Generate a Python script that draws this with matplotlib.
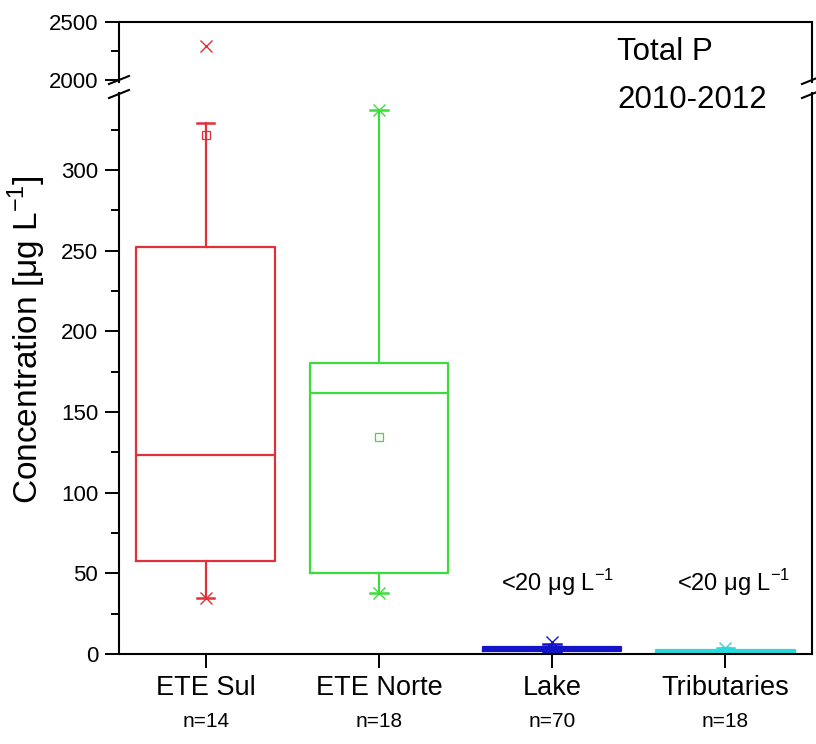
import matplotlib
matplotlib.use('Agg')
import matplotlib.pyplot as plt
from matplotlib.lines import Line2D
import numpy as np

plt.rcParams['font.family'] = ['Liberation Sans', 'DejaVu Sans']
plt.rcParams['mathtext.fontset'] = 'custom'
plt.rcParams['mathtext.rm'] = 'Liberation Sans'

# box statistics (ug/L)
categories = ['ETE Sul', 'ETE Norte', 'Lake', 'Tributaries']
n_obs = [14, 18, 70, 18]
q1 = [57.8, 50.4, 2.0, 0.8]
medians = [123.4, 161.6, 3.0, 1.5]
q3 = [252.5, 180.6, 4.5, 2.2]
whis_lo = [34.7, 38.0, 1.0, 0.5]
whis_hi = [329.4, 337.3, 6.0, 4.0]
means = [321.8, 134.7, 3.5, 1.8]
data_min = [34.7, 38.0, 1.0, 0.5]
data_max = [2294, 337.3, 7.6, 4.0]
colors = ['#e0303a', '#3ddc3d', '#1414c8', '#2adada']
notes = {'Lake': '<20 \u03bcg L$^{\\mathregular{-1}}$', 'Tributaries': '<20 \u03bcg L$^{\\mathregular{-1}}$'}

W, H = 816, 744
fig = plt.figure(figsize=(W / 100, H / 100), dpi=100)

left, right = 119, 812
ax_lo = fig.add_axes([left / W, (H - 654) / H, (right - left) / W, (654 - 92.7) / H])
ax_hi = fig.add_axes([left / W, (H - 82) / H, (right - left) / W, (82 - 22) / H])

pos = np.arange(1, len(categories) + 1)
stats = []
for i, c in enumerate(categories):
    stats.append(dict(label=c, q1=q1[i], med=medians[i], q3=q3[i],
                      whislo=whis_lo[i], whishi=whis_hi[i], mean=means[i], fliers=[]))

for ax in (ax_lo, ax_hi):
    art = ax.bxp(stats, positions=pos, widths=0.8, capwidths=0.1,
                 showmeans=True, showfliers=False, patch_artist=False)
    for i, col in enumerate(colors):
        art['boxes'][i].set(color=col, linewidth=1.6)
        art['medians'][i].set(color=col, linewidth=1.6)
        for k in (2 * i, 2 * i + 1):
            art['whiskers'][k].set(color=col, linewidth=1.6)
            art['caps'][k].set(color=col, linewidth=1.8)
        art['means'][i].set(marker='s', markerfacecolor='none',
                            markeredgecolor=col, markersize=6, markeredgewidth=0.9)
        ax.plot([pos[i], pos[i]], [data_min[i], data_max[i]], ls='none', marker='x',
                color=col, markersize=8, markeredgewidth=1.0)
    ax.set_xlim(0.5, 4.5)

ax_lo.set_ylim(0, 348)
ax_hi.set_ylim(1983, 2500)

for ax in (ax_lo, ax_hi):
    for s in ax.spines.values():
        s.set_linewidth(1.5)
ax_lo.spines['top'].set_visible(False)
ax_hi.spines['bottom'].set_visible(False)

ax_lo.set_yticks(np.arange(0, 301, 50))
ax_lo.set_yticks(np.arange(25, 340, 50), minor=True)
ax_hi.set_yticks([2000, 2500])
ax_hi.set_yticks([2250], minor=True)
for ax in (ax_lo, ax_hi):
    ax.tick_params(axis='y', which='major', direction='out', length=10, width=1.4,
                   labelsize=16, pad=5, right=False)
    ax.tick_params(axis='y', which='minor', direction='out', length=6, width=1.4, right=False)
ax_hi.tick_params(axis='x', which='both', bottom=False, top=False, labelbottom=False)

ax_lo.set_xticks(pos)
ax_lo.set_xticklabels(categories)
ax_lo.tick_params(axis='x', direction='out', length=10, width=1.4, labelsize=19.5, pad=5)
for i, n in enumerate(n_obs):
    ax_lo.text(pos[i], -0.121, 'n=%d' % n, transform=ax_lo.get_xaxis_transform(),
               ha='center', va='center', fontsize=15)

note_shift = {'Lake': 0.03, 'Tributaries': 0.05}
for i, c in enumerate(categories):
    if c in notes:
        ax_lo.text(pos[i] + note_shift[c], 44, notes[c], ha='center', va='center', fontsize=17)

fig.text(617 / W, 1 - 52 / H, 'Total P', ha='left', va='center', fontsize=22.5)
fig.text(617 / W, 1 - 100 / H, '2010-2012', ha='left', va='center', fontsize=22.5)

fig.text(27 / W, 1 - 340 / H, 'Concentration [\u03bcg L$^{\\mathregular{-1}}$]', rotation=90,
         ha='center', va='center', fontsize=24)

# break marks on both vertical axes
for x in (left, right):
    for y in (80, 94):
        fig.add_artist(Line2D([(x - 10) / W, (x + 10) / W], [1 - (y + 4) / H, 1 - (y - 4) / H],
                              color='black', linewidth=1.5))

fig.savefig('out.png', dpi=100)
